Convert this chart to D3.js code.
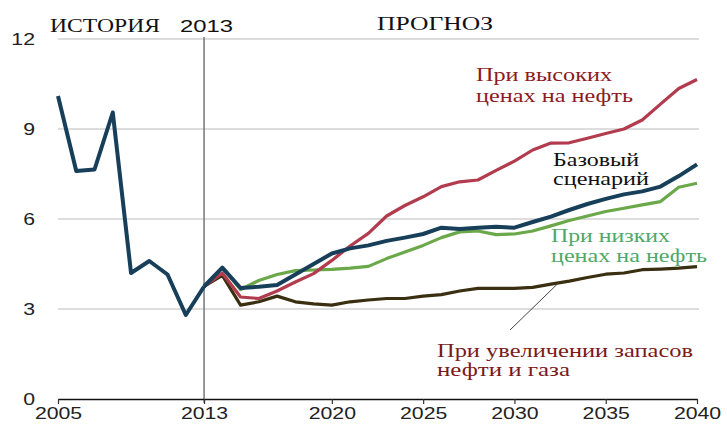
<!DOCTYPE html>
<html>
<head>
<meta charset="utf-8">
<script src="https://cdn.jsdelivr.net/npm/d3@7"></script>
<style>
  html, body { margin: 0; padding: 0; background: #fff; }
  svg { display: block; }
  .serif { font-family: "Liberation Serif", "Times New Roman", serif; }
  .sans { font-family: "Liberation Sans", Arial, sans-serif; }
</style>
</head>
<body>
<svg id="chart" width="727" height="427"></svg>
<script>
// History, 2005–2013
const histYears = [2005, 2006, 2007, 2008, 2009, 2010, 2011, 2012, 2013];
const histValues = [10.1, 7.6, 7.65, 9.55, 4.2, 4.6, 4.15, 2.8, 3.75];

// Projections, 2013–2040
const projYears = d3.range(2013, 2041);
const baseCase = [3.75, 4.38, 3.7, 3.74, 3.8, 4.15, 4.5, 4.85, 5.02, 5.12, 5.27, 5.38, 5.5, 5.71,
  5.67, 5.71, 5.74, 5.71, 5.9, 6.08, 6.3, 6.5, 6.67, 6.82, 6.92, 7.08, 7.43, 7.82];
const highOilPrice = [3.75, 4.2, 3.4, 3.35, 3.6, 3.9, 4.18, 4.62, 5.1, 5.52, 6.1, 6.45, 6.74, 7.08,
  7.24, 7.3, 7.62, 7.93, 8.3, 8.53, 8.54, 8.69, 8.85, 9.0, 9.3, 9.83, 10.35, 10.65];
const lowOilPrice = [3.75, 4.38, 3.65, 3.95, 4.15, 4.28, 4.3, 4.32, 4.36, 4.42, 4.68, 4.9, 5.12, 5.38,
  5.57, 5.6, 5.48, 5.5, 5.6, 5.77, 5.95, 6.1, 6.25, 6.36, 6.47, 6.58, 7.06, 7.19];
const highResource = [3.75, 4.12, 3.13, 3.24, 3.43, 3.24, 3.17, 3.13, 3.24, 3.3, 3.35, 3.35, 3.43, 3.48,
  3.6, 3.69, 3.69, 3.69, 3.72, 3.83, 3.93, 4.05, 4.16, 4.2, 4.31, 4.33, 4.36, 4.41];

const xTicks = [2005, 2013, 2020, 2025, 2030, 2035, 2040];
const yTicks = [0, 3, 6, 9, 12];

const svg = d3.select("#chart");
const x = d3.scaleLinear().domain([2005, 2040]).range([58, 697]);
const y = d3.scaleLinear().domain([0, 12]).range([399, 39]);
const WIDE = 1.25; // horizontal stretch applied to the digit labels

// Horizontal gridlines
svg.append("g").selectAll("line").data(yTicks.filter(d => d > 0)).join("line")
  .attr("x1", x(2005)).attr("x2", x(2040) + 2)
  .attr("y1", d => y(d)).attr("y2", d => y(d))
  .attr("stroke", "#bcbcbc").attr("stroke-width", 1.2);

// Y tick labels
svg.append("g").selectAll("text").data(yTicks).join("text")
  .attr("class", "sans")
  .attr("transform", d => `translate(35,${y(d)}) scale(${WIDE},1)`)
  .attr("dy", "0.36em")
  .attr("text-anchor", "end")
  .attr("font-size", 17).attr("fill", "#222")
  .text(d => d);

// Divider between history and projection
svg.append("line")
  .attr("x1", x(2013)).attr("x2", x(2013))
  .attr("y1", y(12) - 2).attr("y2", y(0) + 4)
  .attr("stroke", "#6e6e6e").attr("stroke-width", 1.4);

// X axis
const xAxis = d3.axisBottom(x).tickValues(xTicks).tickFormat(d3.format("d")).tickSize(5).tickSizeOuter(0);
const gx = svg.append("g").attr("transform", `translate(0,${y(0)})`).call(xAxis);
gx.attr("font-family", null);
gx.select(".domain").attr("stroke", "#111").attr("stroke-width", 1.5);
gx.selectAll(".tick line").attr("stroke", "#333").attr("stroke-width", 1.2);
gx.selectAll(".tick text").attr("class", "sans").attr("font-size", 17).attr("fill", "#222")
  .attr("y", 8).attr("dy", "0.71em")
  .attr("transform", `scale(${WIDE},1)`);

// Series lines
const line = d3.line().x(d => x(d[0])).y(d => y(d[1]));
const pairs = (years, vals) => years.map((yr, i) => [yr, vals[i]]);

const series = [
  { vals: highResource, color: "#3b2f12", width: 3.2 },
  { vals: lowOilPrice, color: "#6aa84a", width: 3.2 },
  { vals: highOilPrice, color: "#b23b4e", width: 3.2 },
  { vals: baseCase, color: "#173f5a", width: 4 }
];
svg.append("g").selectAll("path").data(series).join("path")
  .attr("d", s => line(pairs(projYears, s.vals)))
  .attr("fill", "none")
  .attr("stroke", s => s.color)
  .attr("stroke-width", s => s.width)
  .attr("stroke-linejoin", "round");

svg.append("path")
  .attr("d", line(pairs(histYears, histValues)))
  .attr("fill", "none").attr("stroke", "#173f5a").attr("stroke-width", 4)
  .attr("stroke-linejoin", "round");

// Pointer for the resource scenario label
svg.append("line")
  .attr("x1", 510).attr("y1", 330).attr("x2", x(2032.4)).attr("y2", y(3.86))
  .attr("stroke", "#444").attr("stroke-width", 1);

// Text helper: one line, stretched to a given width
function label(cls, size, color, tx, ty, width, str) {
  return svg.append("text").attr("class", cls)
    .attr("x", tx).attr("y", ty)
    .attr("font-size", size).attr("fill", color)
    .attr("textLength", width).attr("lengthAdjust", "spacingAndGlyphs")
    .text(str);
}

// Header labels
label("serif", 18.5, "#111", 50, 32, 110, "ИСТОРИЯ");
label("sans", 16.5, "#111", 180, 32, 53, "2013");
label("serif", 19, "#111", 377, 30, 116, "ПРОГНОЗ");

// Scenario labels
const scenarioText = [
  { lines: ["При высоких", "ценах на нефть"], widths: [136, 157], x: 476, y: 80.5, gap: 21, color: "#8c1c24" },
  { lines: ["Базовый", "сценарий"], widths: [86, 96], x: 553, y: 166, gap: 19, color: "#111" },
  { lines: ["При низких", "ценах на нефть"], widths: [119, 156], x: 551, y: 242, gap: 20, color: "#4fa868" },
  { lines: ["При увеличении запасов", "нефти и газа"], widths: [256, 133], x: 437, y: 357, gap: 19, color: "#7a1a1a" }
];
scenarioText.forEach(l => {
  l.lines.forEach((s, i) => label("serif", 18.5, l.color, l.x, l.y + i * l.gap, l.widths[i], s));
});
</script>
</body>
</html>
